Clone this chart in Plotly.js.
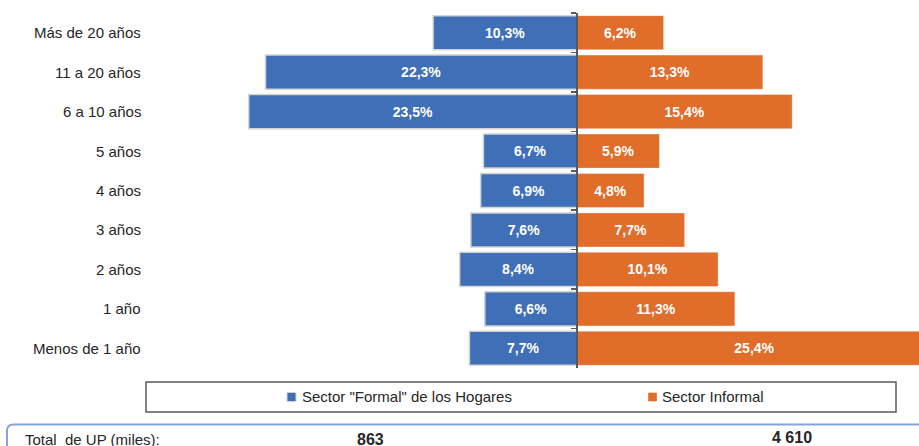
<!DOCTYPE html>
<html>
<head>
<meta charset="utf-8">
<script src="https://cdn.plot.ly/plotly-3.0.1.min.js"></script>
<style>html,body{margin:0;padding:0;background:#fff;}#chart{width:919px;height:446px;}</style>
</head>
<body>
<div id="chart"></div>
<script>
const categories = ["Más de 20 años","11 a 20 años","6 a 10 años","5 años","4 años","3 años","2 años","1 año","Menos de 1 año"];
const formalValues = [10.3, 22.3, 23.5, 6.7, 6.9, 7.6, 8.4, 6.6, 7.7];
const informalValues = [6.2, 13.3, 15.4, 5.9, 4.8, 7.7, 10.1, 11.3, 25.4];
const seriesNames = ['Sector "Formal" de los Hogares', 'Sector Informal'];
const totalLabel = "Total  de UP (miles):";
const totals = ["863", "4 610"];

const BLUE = "#3F6FB7";
const ORANGE = "#E06D2A";
const FONT = "Liberation Sans, Arial, sans-serif";

const fmt = v => v.toFixed(1).replace(".", ",") + "%";

// pixel -> paper helpers (layout only)
const W = 919, TOP = 13, BOT = 368;
const px = x => x / W;
const py = y => (BOT - y) / (BOT - TOP);

const traces = [
  {
    type: "bar", orientation: "h", name: seriesNames[0],
    y: categories, x: formalValues.map(v => -v),
    text: formalValues.map(fmt), textposition: "inside", insidetextanchor: "middle",
    textangle: 0, constraintext: "none",
    textfont: {family: FONT, size: 14, color: "#ffffff", weight: "bold"},
    marker: {color: BLUE, line: {color: "#d4d4d4", width: 1.5}},
    hoverinfo: "skip", showlegend: false
  },
  {
    type: "bar", orientation: "h", name: seriesNames[1],
    y: categories, x: informalValues,
    text: informalValues.map(fmt), textposition: "inside", insidetextanchor: "middle",
    textangle: 0, constraintext: "none",
    textfont: {family: FONT, size: 14, color: "#ffffff", weight: "bold"},
    marker: {color: ORANGE, line: {color: "rgba(255,255,255,0.35)", width: 1}},
    hoverinfo: "skip", showlegend: false
  }
];

const annotations = [];
categories.forEach(c => annotations.push({
  xref: "paper", yref: "y", x: px(143), y: c, xanchor: "right", yanchor: "middle",
  text: c, showarrow: false, font: {family: FONT, size: 15, color: "#262626"}
}));
// legend texts
annotations.push({xref: "paper", yref: "paper", x: px(300), y: py(397), xanchor: "left", yanchor: "middle",
  text: seriesNames[0], showarrow: false, font: {family: FONT, size: 15, color: "#262626"}});
annotations.push({xref: "paper", yref: "paper", x: px(660), y: py(397), xanchor: "left", yanchor: "middle",
  text: seriesNames[1], showarrow: false, font: {family: FONT, size: 15, color: "#262626"}});
// totals row
annotations.push({xref: "paper", yref: "paper", x: px(23), y: py(439), xanchor: "left", yanchor: "middle",
  text: totalLabel, showarrow: false, font: {family: FONT, size: 15, color: "#262626"}});
annotations.push({xref: "paper", yref: "paper", x: px(370), y: py(439), xanchor: "center", yanchor: "middle",
  text: "<b>" + totals[0] + "</b>", showarrow: false, font: {family: FONT, size: 16, color: "#262626"}});
annotations.push({xref: "paper", yref: "paper", x: px(792), y: py(437), xanchor: "center", yanchor: "middle",
  text: "<b>" + totals[1] + "</b>", showarrow: false, font: {family: FONT, size: 16, color: "#262626"}});

const shapes = [
  // legend box
  {type: "rect", xref: "paper", yref: "paper", x0: px(146), x1: px(896), y0: py(382), y1: py(412),
   line: {color: "#595959", width: 1.5}, fillcolor: "rgba(0,0,0,0)", layer: "above"},
  // legend swatches
  {type: "rect", xref: "paper", yref: "paper", x0: px(287), x1: px(296), y0: py(392.5), y1: py(401.5),
   line: {color: "#d4d4d4", width: 1}, fillcolor: BLUE, layer: "above"},
  {type: "rect", xref: "paper", yref: "paper", x0: px(648), x1: px(657), y0: py(392.5), y1: py(401.5),
   line: {color: "rgba(255,255,255,0.4)", width: 1}, fillcolor: ORANGE, layer: "above"},
  // totals box (rounded top-left corner)
  {type: "path", xref: "paper", yref: "paper",
   path: `M ${px(7)},${py(460)} L ${px(7)},${py(431)} Q ${px(7)},${py(424.5)} ${px(13)},${py(424.5)} L ${px(930)},${py(424.5)}`,
   line: {color: "#86A5D6", width: 2}, layer: "above"}
];

const layout = {
  width: 919, height: 446,
  margin: {l: 0, r: 0, t: TOP, b: 446 - BOT, pad: 0},
  paper_bgcolor: "#ffffff", plot_bgcolor: "#ffffff",
  barmode: "relative", bargap: 0.135,
  showlegend: false,
  font: {family: FONT, color: "#262626"},
  xaxis: {range: [-577 / 13.97, 342 / 13.97], visible: false, fixedrange: true},
  yaxis: {
    type: "category", categoryorder: "array", categoryarray: categories,
    range: [categories.length - 0.5, -0.5],
    anchor: "free", position: px(576.8),
    showline: true, linecolor: "#595959", linewidth: 2,
    ticks: "outside", tickson: "boundaries", ticklen: 5, tickcolor: "#595959", tickwidth: 1.5,
    showticklabels: false, showgrid: false, zeroline: false, fixedrange: true
  },
  yaxis2: {
    type: "linear", overlaying: "y", range: [categories.length - 0.5, -0.5],
    anchor: "free", position: px(576.8),
    tickmode: "array", tickvals: categories.map((c, i) => i),
    ticks: "outside", ticklen: 4, tickcolor: "#595959", tickwidth: 1.5,
    showline: false, showticklabels: false, showgrid: false, zeroline: false, fixedrange: true
  },
  annotations: annotations,
  shapes: shapes
};

Plotly.newPlot("chart", traces, layout, {staticPlot: true, displayModeBar: false});
</script>
</body>
</html>
